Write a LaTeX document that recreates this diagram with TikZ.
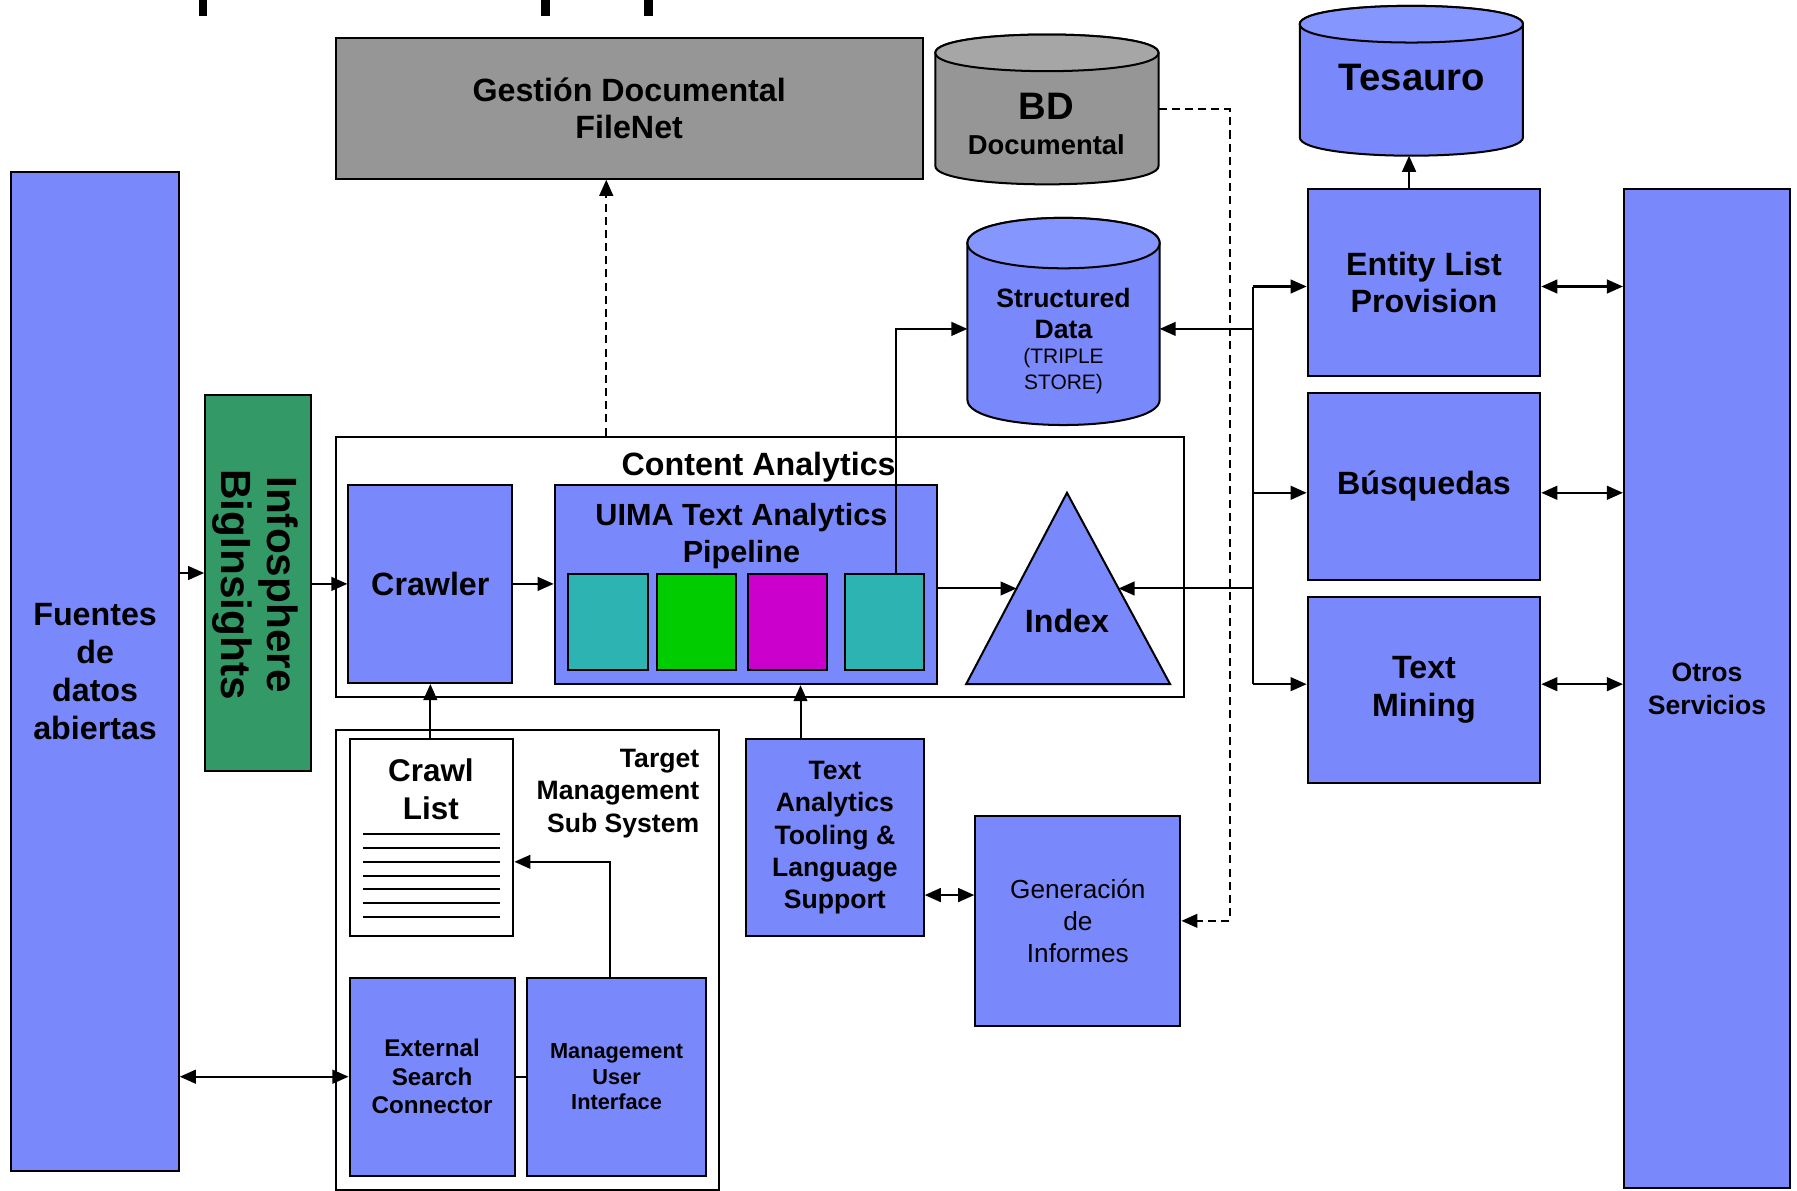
\documentclass[tikz,border=0pt]{standalone}
\usepackage{fontspec}
\setmainfont{Liberation Sans}
\usetikzlibrary{arrows.meta,calc}

\definecolor{boxblue}{RGB}{121,136,250}
\definecolor{capblue}{RGB}{133,150,255}
\definecolor{boxgray}{RGB}{150,150,150}
\definecolor{capgray}{RGB}{166,166,166}
\definecolor{bigreen}{RGB}{51,153,102}
\definecolor{uimateal}{RGB}{46,179,179}
\definecolor{uimagreen}{RGB}{0,204,0}
\definecolor{uimamag}{RGB}{204,0,204}

\begin{document}
\begin{tikzpicture}[x=0.1mm,y=-0.1mm,line width=0.5pt,
  >={Triangle[length=1.4mm,width=1.2mm]},
  blk/.style={draw, fill=boxblue, inner sep=0pt, align=center},
  frm/.style={draw, fill=white, inner sep=0pt},
  drum/.style={inner sep=0pt},
  dsh/.style={dash pattern=on 0.7mm off 0.45mm},
  lbl/.style={font=\bfseries\fontsize{8}{9.4}\selectfont},
  lblmid/.style={font=\bfseries\fontsize{6.6}{8}\selectfont}]
\useasboundingbox (0,0) rectangle (1568,1039);

% cut title at the top edge
\fill (174,0) rectangle (181,14);
\fill (472,0) rectangle (480,14);
\fill (562,0) rectangle (570,14);

% left side
\node[blk, lbl, minimum width=14.6mm, minimum height=87.2mm] (fuentes) at (83,586) {Fuentes\\de\\datos\\abiertas};
\node[draw, fill=bigreen, inner sep=0pt, minimum width=9.2mm, minimum height=32.8mm] (infos) at (225,509) {};
\node[rotate=-90, align=center, font=\bfseries\fontsize{10.5}{11.4}\selectfont] (infostxt) at (223,510) {Infosphere\\BigInsights};

% stores on top
\node[draw, fill=boxgray, inner sep=0pt, align=center, lbl, minimum width=51.2mm, minimum height=12.3mm] (gest) at (549,94.5) {Gestión Documental\\FileNet};
\node[drum, minimum width=19.3mm, minimum height=12.9mm] (bd) at (913.5,95.5) {};
\node[drum, minimum width=19.3mm, minimum height=12.9mm] (tes) at (1231.5,70.5) {};
\node[drum, minimum width=16.6mm, minimum height=17.9mm] (sd) at (928,280.5) {};
\foreach \nm/\e/\cb/\cc in {bd/1.6mm/boxgray/capgray, tes/1.6mm/boxblue/capblue, sd/2.2mm/boxblue/capblue}
{
  \draw[fill=\cb] let \p1=(\nm.north west), \p2=(\nm.south east) in
    (\x1,\y1-\e) .. controls (\x1,\y1+0.333*\e) and (\x2,\y1+0.333*\e) .. (\x2,\y1-\e)
    -- (\x2,\y2+\e) .. controls (\x2,\y2-0.333*\e) and (\x1,\y2-0.333*\e) .. (\x1,\y2+\e) -- cycle;
  \draw[fill=\cc] let \p1=(\nm.north west), \p2=(\nm.south east) in
    (\x1,\y1-\e) .. controls (\x1,\y1+0.333*\e) and (\x2,\y1+0.333*\e) .. (\x2,\y1-\e)
    .. controls (\x2,\y1-2.333*\e) and (\x1,\y1-2.333*\e) .. (\x1,\y1-\e) -- cycle;
}
\node[font=\bfseries\fontsize{9.5}{11}\selectfont] (bdA) at (913,93) {BD};
\node[font=\bfseries\fontsize{6.8}{8}\selectfont] (bdB) at (913,126) {Documental};
\node[font=\bfseries\fontsize{9.5}{11}\selectfont] (testxt) at (1232,68) {Tesauro};
\node[align=center, font=\bfseries\fontsize{6.6}{7.7}\selectfont] (sdA) at (928,273.5) {Structured\\Data};
\node[align=center, font=\fontsize{5.2}{6.5}\selectfont] (sdB) at (928,323.5) {(TRIPLE\\STORE)};

% content analytics
\node[frm, minimum width=74mm, minimum height=22.7mm] (ca) at (663,494.5) {};
\node[lbl] (catxt) at (662,408) {Content Analytics};
\node[blk, lbl, minimum width=14.3mm, minimum height=17.3mm] (crawler) at (375.5,509.5) {Crawler};
\node[blk, minimum width=33.4mm, minimum height=17.4mm] (pipe) at (651,510) {};
\node[align=center, font=\bfseries\fontsize{7.6}{9.1}\selectfont] (pipetxt) at (647,468) {UIMA Text Analytics\\Pipeline};
\foreach \x/\c/\n in {530.5/uimateal/t1, 607.5/uimagreen/t2, 687.5/uimamag/t3, 771.5/uimateal/t4}
  \node[draw, fill=\c, inner sep=0pt, minimum width=6.9mm, minimum height=8.4mm] (\n) at (\x,543) {};
\draw[fill=boxblue] (843,597) -- coordinate[pos=0.5] (idxW) (931,430) -- coordinate[pos=0.5] (idxE) (1021,597) -- cycle;
\node[lbl] (idx) at (931,542) {Index};

% target management
\node[frm, minimum width=33.4mm, minimum height=40.1mm] (tms) at (460,837.5) {};
\node[anchor=north east, inner sep=0pt, align=right, lblmid] (tmstxt) at (611,653) {Target\\Management\\Sub System};
\node[draw, fill=white, inner sep=0pt, minimum width=14.3mm, minimum height=17.2mm] (clist) at (376.5,731) {};
\node[align=center, font=\bfseries\fontsize{7.8}{9.4}\selectfont] (cltxt) at (376,689) {Crawl\\List};
\foreach \y in {728,740,...,800}
  \draw (317,\y) -- (436,\y);
\node[blk, font=\bfseries\fontsize{6}{7.1}\selectfont, minimum width=14.4mm, minimum height=17.3mm] (esc) at (377,939.5) {External\\Search\\Connector};
\node[blk, font=\bfseries\fontsize{5.4}{6.3}\selectfont, minimum width=15.6mm, minimum height=17.3mm] (mui) at (538,939.5) {Management\\User\\Interface};

% tooling and reports
\node[blk, lblmid, minimum width=15.5mm, minimum height=17.2mm] (tool) at (728.5,731) {Text\\Analytics\\Tooling \&\\Language\\Support};
\node[blk, font=\fontsize{6.5}{8}\selectfont, minimum width=17.9mm, minimum height=18.3mm] (gen) at (940.5,803.5) {Generación\\de\\Informes};

% services on the right
\node[blk, lbl, minimum width=20.3mm, minimum height=16.3mm] (ent) at (1242.5,246.5) {Entity List\\Provision};
\node[blk, lbl, minimum width=20.3mm, minimum height=16.3mm] (busq) at (1242.5,424.5) {Búsquedas};
\node[blk, lbl, minimum width=20.3mm, minimum height=16.2mm] (tmin) at (1242.5,602) {Text\\Mining};
\node[blk, lblmid, minimum width=14.5mm, minimum height=87.2mm] (otros) at (1489.5,601) {Otros\\Servicios};

\coordinate (bus) at (1093,0);
\coordinate (dashx) at (1073,0);

% connectors
\draw[->] (fuentes.east |- 0,500) -- (infos.west |- 0,500);
\draw[->] (infos.east |- crawler.west) -- (crawler.west);
\draw[->] (crawler.east) -- (pipe.west |- crawler.east);
\draw[->] (pipe.east |- idxW) -- (idxW);
\draw[->] ([xshift=1mm]t4.north) |- (sd.west |- 0,287);
\draw[->] (bus |- 0,287) -- (sd.east |- 0,287);
\draw (bus |- 0,250) -- (bus |- 0,597);
\draw[->] (bus |- idxE) -- (idxE);
\foreach \n/\y in {ent/250, busq/430, tmin/597}
{
  \draw[->] (bus |- 0,\y) -- (\n.west |- 0,\y);
  \draw[<->] (\n.east |- 0,\y) -- (otros.west |- 0,\y);
}
\draw[->] ([xshift=-1.3mm]ent.north) -- ([xshift=-1.3mm]ent.north |- tes.south);
\draw[->, dsh] ([xshift=-2mm]gest.south |- ca.north) -- ([xshift=-2mm]gest.south);
\draw[->, dsh] (bd.east) -- (bd.east -| dashx) |- (gen.east);
\draw[->] (crawler.south |- clist.north) -- (crawler.south);
\draw[->] ([xshift=-0.6mm]mui.north) |- ([yshift=-2.1mm]clist.east);
\draw (esc.east) -- (mui.west);
\draw[<->] (fuentes.east |- esc.west) -- (esc.west);
\draw[->] ([xshift=-3mm]tool.north) -- ([xshift=-3mm]tool.north |- pipe.south);
\draw[<->] ([yshift=-5mm]tool.east) -- ([yshift=-5mm]tool.east -| gen.west);
\end{tikzpicture}
\end{document}
